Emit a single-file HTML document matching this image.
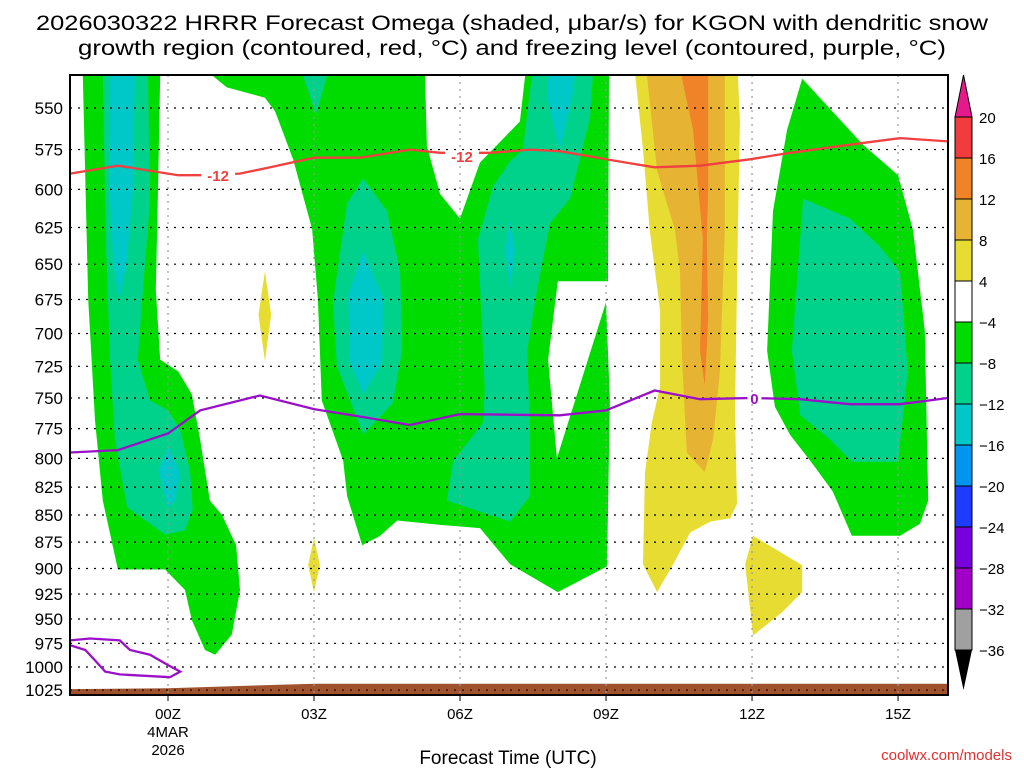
<!DOCTYPE html>
<html><head><meta charset="utf-8"><style>
html,body{margin:0;padding:0;background:#fff;}
svg{display:block;font-family:"Liberation Sans","DejaVu Sans",sans-serif;}
</style></head><body>
<svg id="chart" width="1024" height="768" viewBox="0 0 1024 768" xmlns="http://www.w3.org/2000/svg">
<text x="512" y="30" font-size="21" text-anchor="middle" textLength="952" lengthAdjust="spacingAndGlyphs">2026030322 HRRR Forecast Omega (shaded, μbar/s) for KGON with dendritic snow</text>
<text x="512" y="55" font-size="21" text-anchor="middle" textLength="868" lengthAdjust="spacingAndGlyphs">growth region (contoured, red, °C) and freezing level (contoured, purple, °C)</text>
<defs><clipPath id="plotclip"><rect x="70" y="75" width="878" height="620"/></clipPath></defs>
<g id="fills" clip-path="url(#plotclip)"></g>
<g id="grid"></g>
<g id="lines" clip-path="url(#plotclip)"></g>
<rect x="70" y="75" width="878" height="620" fill="none" stroke="#000" stroke-width="2"/>
<g id="axes"></g>
<g id="cbar"></g>
<text x="508" y="764" font-size="19" text-anchor="middle">Forecast Time (UTC)</text>
<text x="1012" y="760" font-size="15" fill="#e03030" text-anchor="end">coolwx.com/models</text>
</svg>
<script>
// ---- data (hours relative to 00Z 4 Mar, pressure hPa) ----
const pressureTicks=[550,575,600,625,650,675,700,725,750,775,800,825,850,875,900,925,950,975,1000,1025];
const hourTicks=[0,3,6,9,12,15];
const hourLabels=["00Z","03Z","06Z","09Z","12Z","15Z"];
const cbarLevels=[20,16,12,8,4,-4,-8,-12,-16,-20,-24,-28,-32,-36];
const cbarColors=["#f03c3c","#f08228","#e6b432","#e6dc32","#ffffff","#00dc00","#00d28c","#00c8c8","#0096f0","#1e3cff","#7800dc","#a000c8","#a0a0a0"];
const greenLeft=[[-1.75,531],[-0.16,531],[-0.21,607],[-0.25,668],[-0.16,720],[0.21,729],[0.49,747],[0.66,784],[0.86,837],[1.11,850],[1.40,878],[1.48,921],[1.31,966],[0.97,987],[0.76,982],[0.49,951],[0.35,921],[-0.06,901],[-1.03,901],[-1.34,837],[-1.50,768],[-1.64,675]];
const tealLeft=[[-1.34,531],[-0.41,531],[-0.37,607],[-0.53,675],[-0.62,720],[-0.37,752],[0,760],[0.25,776],[0.45,810],[0.51,845],[0.35,864],[-0.06,868],[-0.84,843],[-1.09,784],[-1.19,720],[-1.27,640]];
const cyanLeftTop=[[-1.19,531],[-0.68,531],[-0.72,600],[-0.85,650],[-1.0,675],[-1.12,650],[-1.2,600]];
const cyanLeftLow=[[0,790],[0.25,812],[0.15,837],[0,843],[-0.2,810]];
const greenMid=[[0.90,531],[1.21,538],[1.99,544],[2.20,552],[2.57,581],[2.96,626],[3.08,675],[3.16,752],[3.60,802],[3.68,833],[3.99,878],[4.36,869],[4.71,855],[5.59,859],[6.41,862],[7.03,896],[8.01,923],[9.02,898],[9.08,752],[9.0,677],[7.99,800],[7.81,720],[8.01,662],[9.04,662],[9.06,531],[7.34,531],[7.23,558],[6.41,583],[6.0,619],[5.59,603],[5.32,573],[5.28,531]];
const tealMid=[[4.01,593],[3.68,609],[3.39,677],[3.47,725],[4.01,780],[4.62,754],[4.81,713],[4.77,655],[4.50,614]];
const cyanMid=[[4.01,641],[3.70,672],[3.74,722],[4.01,747],[4.40,722],[4.42,674]];
const tealMid2=[[7.48,531],[8.73,531],[8.67,556],[8.26,606],[7.85,622],[7.58,669],[7.38,713],[7.44,777],[7.44,833],[7.03,856],[6.41,847],[5.73,837],[5.86,802],[6.47,770],[6.51,744],[6.37,633],[6.68,598],[7.03,582],[7.29,575]];
const cyanMid2Top=[[7.81,531],[8.36,531],[8.32,542],[8.05,575],[7.81,546]];
const cyanMid2Sliver=[[7.03,620],[7.13,640],[7.03,668],[6.93,640]];
const tealTopSmall=[[2.77,531],[3.27,531],[3.04,554]];
const yellowDiamond1=[[1.99,655],[2.12,686],[1.99,721],[1.86,686]];
const yellowDiamond2=[[3.0,871],[3.12,897],[3.0,923],[2.88,897]];
const yellowCol=[[9.6,531],[9.76,575],[9.9,627],[10.11,683],[10.11,741],[9.94,770],[9.8,812],[9.76,896],[10.05,923],[10.38,896],[10.73,866],[11.14,856],[11.55,853],[11.69,840],[11.65,760],[11.71,627],[11.75,558],[11.71,531]];
const amberCol=[[9.84,531],[10.05,588],[10.42,627],[10.52,655],[10.56,719],[10.66,795],[11.03,812],[11.2,784],[11.34,729],[11.44,627],[11.44,531]];
const orangeCol=[[10.56,531],[11.10,531],[11.10,600],[11.07,633],[11.10,689],[11.03,740],[10.93,713],[10.99,633],[10.79,563],[10.56,533]];
const yellow12z=[[12.02,869],[13.03,897],[13.03,923],[12.62,943],[12.02,967],[11.86,896]];
const greenRight=[[13.03,533],[14.28,572],[15.0,591],[15.31,627],[15.55,698],[15.62,837],[15.45,858],[15.04,869],[14.05,869],[13.66,829],[13.25,805],[12.78,780],[12.47,757],[12.31,713],[12.43,614],[12.72,563]];
const tealRight=[[13.05,606],[14.01,619],[14.63,638],[15.04,655],[15.2,729],[15.0,803],[14.05,803],[13.6,784],[12.99,764],[12.82,713]];
const groundTop=[[-2.1,1024],[0,1023],[3,1018],[16.1,1018]];
const minus12Line=[[-2.01,590],[-1.03,585],[0.21,591],[0.66,591],[1.48,590],[2.10,586],[3.0,580],[3.94,580],[4.97,575],[5.59,577],[6.62,577],[7.44,575],[8.05,576],[9.0,581],[10.0,586],[10.93,585],[11.96,581],[12.78,577],[14.01,572],[15.04,568],[16.03,570]];
const minus12Labels=[[1.03,591],[6.04,579]];
const zeroLine=[[-2.01,795],[-1.03,793],[0,779],[0.66,760],[1.89,748],[3.0,759],[3.94,765],[4.97,772],[6.0,763],[8.05,764],[9.0,760],[10.0,744],[10.93,751],[11.96,750],[12.99,751],[14.01,755],[15.04,755],[16.03,750]];
const zeroLabels=[[12.05,750]];
const zeroLoop=[[-2.01,972],[-1.6,970],[-0.99,972],[-0.78,982],[-0.37,987],[0,998],[0.25,1005],[0.04,1011],[-0.99,1008],[-1.29,1005],[-1.5,993],[-1.7,982],[-2.01,977]];

// ---- scales ----
const X=h=>168+h*48.67;
const Y=p=>108+935*Math.log(p/550);
const NS="http://www.w3.org/2000/svg";
function mk(tag,parent){const e=document.createElementNS(NS,tag);parent.appendChild(e);return e;}
function pts(arr){return arr.map(d=>X(d[0]).toFixed(1)+","+Y(d[1]).toFixed(1)).join(" ");}

const fills=document.getElementById('fills');
function poly(arr,color,name){
  const e=mk('polygon',fills);
  e.setAttribute('points',pts(arr));e.setAttribute('fill',color);
  
  
}
poly(greenLeft,"#00dc00","omega-region-left-green");
poly(tealLeft,"#00d28c","omega-region-left-teal");
poly(cyanLeftTop,"#00c8c8","omega-region-left-cyan-top");
poly(cyanLeftLow,"#00c8c8","omega-region-left-cyan-low");
poly(greenMid,"#00dc00","omega-region-mid-green");
poly(tealMid,"#00d28c","omega-region-mid-teal");
poly(cyanMid,"#00c8c8","omega-region-mid-cyan");
poly(tealMid2,"#00d28c","omega-region-mid2-teal");
poly(cyanMid2Top,"#00c8c8","omega-region-mid2-cyan");
poly(cyanMid2Sliver,"#00c8c8","omega-region-mid2-cyan-sliver");
poly(tealTopSmall,"#00d28c","omega-region-top-teal");
poly(yellowDiamond1,"#e6dc32","omega-region-yellow-small1");
poly(yellowDiamond2,"#e6dc32","omega-region-yellow-small2");
poly(yellowCol,"#e6dc32","omega-region-rising-yellow");
poly(amberCol,"#e6b432","omega-region-rising-amber");
poly(orangeCol,"#f08228","omega-region-rising-orange");
poly(yellow12z,"#e6dc32","omega-region-yellow-12z");
poly(greenRight,"#00dc00","omega-region-right-green");
poly(tealRight,"#00d28c","omega-region-right-teal");
{
  const g=groundTop.concat([[16.1,1040],[-2.1,1040]]);
  const e=mk('polygon',fills);
  e.setAttribute('points',pts(g));e.setAttribute('fill',"#a0522d");
  
  
}

// grid
const grid=document.getElementById('grid');
pressureTicks.forEach(p=>{
  const l=mk('line',grid);
  l.setAttribute('x1',70);l.setAttribute('x2',948);l.setAttribute('y1',Y(p));l.setAttribute('y2',Y(p));
  l.setAttribute('stroke','#000');l.setAttribute('stroke-width','1.2');l.setAttribute('stroke-dasharray','2 6');
  
  
});
hourTicks.forEach(h=>{
  const l=mk('line',grid);
  l.setAttribute('x1',X(h));l.setAttribute('x2',X(h));l.setAttribute('y1',75);l.setAttribute('y2',695);
  l.setAttribute('stroke','#999');l.setAttribute('stroke-width','1.2');l.setAttribute('stroke-dasharray','2 5');
  
  
});

// contour lines
const lines=document.getElementById('lines');
function pline(arr,color,name){
  const e=mk('polyline',lines);
  e.setAttribute('points',pts(arr));e.setAttribute('fill','none');e.setAttribute('stroke',color);e.setAttribute('stroke-width','2.3');
  
  
}
function lbl(arr,text,color,w,name){
  arr.forEach(d=>{
    const r=mk('rect',lines);
    r.setAttribute('x',X(d[0])-w/2);r.setAttribute('y',Y(d[1])-5);r.setAttribute('width',w);r.setAttribute('height',10);r.setAttribute('fill','#ffffff');
    
    
    const t=mk('text',lines);
    t.setAttribute('x',X(d[0]));t.setAttribute('y',Y(d[1])+6);t.setAttribute('fill',color);t.setAttribute('font-size','15');t.setAttribute('font-weight','bold');t.setAttribute('text-anchor','middle');
    t.textContent=text;
    
    
  });
}
pline(minus12Line,"#f04040","dgz-minus12-contour");
pline(zeroLine,"#9a10c8","freezing-level-contour");
pline(zeroLoop,"#9a10c8","freezing-level-loop");
lbl(minus12Labels,"-12","#f04040",34,"minus12-contour-label");
lbl(zeroLabels,"0","#9a10c8",14,"zero-contour-label");

// axes labels
const axes=document.getElementById('axes');
pressureTicks.forEach(p=>{
  const t=mk('text',axes);
  t.setAttribute('x',63);t.setAttribute('y',Y(p)+6);t.setAttribute('font-size','17');t.setAttribute('text-anchor','end');
  t.textContent=p;
  
  
});
hourTicks.forEach((h,i)=>{
  const tk=mk('line',axes);
  tk.setAttribute('x1',X(h));tk.setAttribute('x2',X(h));tk.setAttribute('y1',695);tk.setAttribute('y2',701);tk.setAttribute('stroke','#000');
  
  
  const t=mk('text',axes);
  t.setAttribute('x',X(h));t.setAttribute('y',719);t.setAttribute('font-size','15');t.setAttribute('text-anchor','middle');
  t.textContent=hourLabels[i];
  
  
});
[["4MAR",737],["2026",755]].forEach(d=>{
  const t=mk('text',axes);
  t.setAttribute('x',X(0));t.setAttribute('y',d[1]);t.setAttribute('font-size','15');t.setAttribute('text-anchor','middle');
  t.textContent=d[0];
  
  
});

// colorbar
const cbar=document.getElementById('cbar');
const cbTop=117, cbStep=41, cbX=955, cbW=17;
{
  const tri=mk('polygon',cbar);
  tri.setAttribute('points',`${cbX},${cbTop} ${cbX+cbW},${cbTop} ${cbX+cbW/2},75`);
  tri.setAttribute('fill','#e6198c');tri.setAttribute('stroke','#000');
  
  
}
cbarColors.forEach((c,i)=>{
  const r=mk('rect',cbar);
  r.setAttribute('x',cbX);r.setAttribute('y',cbTop+i*cbStep);r.setAttribute('width',cbW);r.setAttribute('height',cbStep);
  r.setAttribute('fill',c);r.setAttribute('stroke','#000');
  
  
});
{
  const yb=cbTop+cbarColors.length*cbStep;
  const tri=mk('polygon',cbar);
  tri.setAttribute('points',`${cbX},${yb} ${cbX+cbW},${yb} ${cbX+cbW/2},690`);
  tri.setAttribute('fill','#000');
  
  
}
cbarLevels.forEach((v,i)=>{
  const t=mk('text',cbar);
  t.setAttribute('x',979);t.setAttribute('y',cbTop+i*cbStep+6);t.setAttribute('font-size','15');
  t.textContent=v<0?"−"+Math.abs(v):v;
  
  
});
</script>
</body></html>
